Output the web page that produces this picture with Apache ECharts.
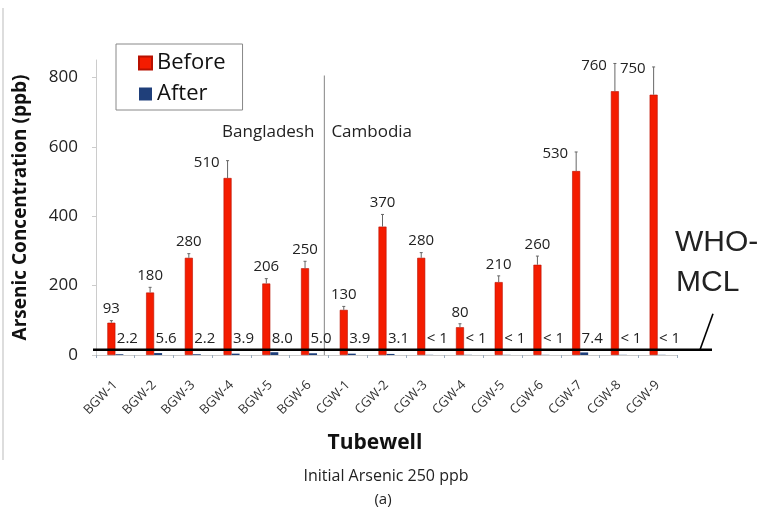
<!DOCTYPE html>
<html>
<head>
<meta charset="utf-8">
<script src="https://cdn.jsdelivr.net/npm/echarts@6/dist/echarts.min.js"></script>
<style>
html,body{margin:0;padding:0;background:#fff;}
#c{width:762px;height:513px;}
</style>
</head>
<body>
<div id="c"></div>
<script>
const categories = ['BGW-1','BGW-2','BGW-3','BGW-4','BGW-5','BGW-6','CGW-1','CGW-2','CGW-3','CGW-4','CGW-5','CGW-6','CGW-7','CGW-8','CGW-9'];
const beforeValues = [93,180,280,510,206,250,130,370,280,80,210,260,530,760,750];
const beforeErrors = [6,15,12,50,14,20,10,35,15,10,18,25,55,80,80];
const afterValues = [2.2,5.6,2.2,3.9,8.0,5.0,3.9,3.1,0.5,0.5,0.5,0.5,7.4,0.5,0.5];
const afterLabels = ['2.2','5.6','2.2','3.9','8.0','5.0','3.9','3.1','< 1','< 1','< 1','< 1','7.4','< 1','< 1'];
const yTicks = [0,200,400,600,800];
const mclValue = 15;
const yMax = 850;

const chart = echarts.init(document.getElementById('c'), null, {renderer:'canvas'});
const FONT = 'Open Sans';

const errData = categories.map((c,i)=>[i, beforeValues[i], beforeErrors[i]]);
const afterLabelData = categories.map((c,i)=>[i, afterValues[i], afterLabels[i]]);

const option = {
  animation:false,
  backgroundColor:'#fff',
  grid:{left:96, right:85, top:60, bottom:158, containLabel:false},
  legend:{
    left:116, top:44, orient:'vertical',
    data:['Before','After'],
    borderColor:'#888', borderWidth:1, padding:[8,17,5,22],
    itemWidth:13, itemHeight:13, itemGap:9,
    icon:'rect',
    textStyle:{fontSize:22, fontFamily:FONT, color:'#111'},
    selectedMode:false
  },
  xAxis:{
    type:'category', data:categories, boundaryGap:true,
    axisLine:{lineStyle:{color:'#ccc'}},
    axisTick:{show:true, length:3, lineStyle:{color:'#9ab'}},
    axisLabel:{rotate:45, fontSize:13, fontFamily:FONT, color:'#333', margin:28, interval:0}
  },
  yAxis:{
    type:'value', min:0, max:yMax, interval:200,
    name:'Arsenic Concentration (ppb)', nameLocation:'middle', nameGap:66,
    nameTextStyle:{fontSize:19, fontWeight:'bold', fontFamily:FONT, color:'#111'},
    splitLine:{show:false},
    axisLine:{show:true, lineStyle:{color:'#ccc'}},
    axisTick:{show:true, length:4, lineStyle:{color:'#ccc'}},
    axisLabel:{fontSize:17, fontFamily:FONT, color:'#222', margin:18, showMaxLabel:false,
      formatter:v=> yTicks.indexOf(v)>=0 ? String(v) : ''}
  },
  series:[
    {name:'Before', type:'bar', data:beforeValues, barWidth:8, barGap:'0%',
     itemStyle:{color:'#f41c00', borderColor:'#b81000', borderWidth:0.6}},
    {name:'After', type:'bar', data:afterValues, barWidth:8,
     itemStyle:{color:'#1f3f7a'}},
    {type:'custom', name:'err', data:errData, z:5,
     renderItem:function(params, api){
       const i = api.value(0), v = api.value(1), e = api.value(2);
       const base = api.coord([i, v]);
       const top = api.coord([i, v+e]);
       const x = base[0] - 4;
       const big = e > 40;
       const label = String(beforeValues[i]);
       return {type:'group', children:[
         {type:'line', shape:{x1:x, y1:base[1], x2:x, y2:top[1]}, style:{stroke:'#666', lineWidth:1}},
         {type:'line', shape:{x1:x-1.5, y1:top[1], x2:x+1.5, y2:top[1]}, style:{stroke:'#666', lineWidth:1}},
         {type:'text', x: big ? x-8 : x, y: big ? top[1]+2 : top[1]-4,
          style:{text:label, fontSize:15, fontFamily:FONT, fill:'#222',
                 align: big ? 'right':'center', verticalAlign: big ? 'middle':'bottom'}}
       ]};
     }},
    {type:'custom', name:'afterLbl', data:afterLabelData, z:6,
     renderItem:function(params, api){
       const i = api.value(0);
       const p = api.coord([i, 0]);
       return {type:'text', x:p[0]+12, y:p[1]-16,
         style:{text:afterLabels[i], fontSize:15, fontFamily:FONT, fill:'#222', align:'center', verticalAlign:'middle'}};
     }}
  ],
  graphic:[]
};
chart.setOption(option);

// overlay graphics computed via the chart's scales
const yMcl = chart.convertToPixel({yAxisIndex:0}, mclValue);
const y0 = chart.convertToPixel({yAxisIndex:0}, 0);
const y805 = chart.convertToPixel({yAxisIndex:0}, 805);
const x5 = chart.convertToPixel({xAxisIndex:0}, 5);
const x6 = chart.convertToPixel({xAxisIndex:0}, 6);
const sepX = (x5 + x6)/2 - 4;
const gridLeft = 93;
const mclRight = 712;

chart.setOption({graphic:[
  {type:'line', shape:{x1:3, y1:8, x2:3, y2:460}, style:{stroke:'#ddd', lineWidth:2}, silent:true},
  {type:'line', shape:{x1:sepX, y1:y805, x2:sepX, y2:y0}, style:{stroke:'#999', lineWidth:1.2}, z:1, silent:true},
  {type:'line', shape:{x1:gridLeft, y1:yMcl, x2:mclRight, y2:yMcl}, style:{stroke:'#000', lineWidth:2.5}, z:100, silent:true},
  {type:'line', shape:{x1:mclRight-12, y1:yMcl, x2:mclRight+1, y2:yMcl-36}, style:{stroke:'#000', lineWidth:1.6}, z:100, silent:true},
  {type:'text', x:sepX-10, y:132, style:{text:'Bangladesh', fontSize:17, fontFamily:FONT, fill:'#222', align:'right', verticalAlign:'middle'}, z:100},
  {type:'text', x:sepX+7, y:132, style:{text:'Cambodia', fontSize:17, fontFamily:FONT, fill:'#222', align:'left', verticalAlign:'middle'}, z:100},
  {type:'text', x:675, y:243, style:{text:'WHO-', fontSize:30, fontFamily:'Liberation Sans', fill:'#222', align:'left', verticalAlign:'middle'}, z:100},
  {type:'text', x:676, y:283, style:{text:'MCL', fontSize:30, fontFamily:'Liberation Sans', fill:'#222', align:'left', verticalAlign:'middle'}, z:100},
  {type:'text', x:375, y:443, style:{text:'Tubewell', fontSize:21, fontWeight:'bold', fontFamily:FONT, fill:'#111', align:'center', verticalAlign:'middle'}, z:100},
  {type:'text', x:386, y:476, style:{text:'Initial Arsenic 250 ppb', fontSize:16, fontFamily:FONT, fill:'#222', align:'center', verticalAlign:'middle'}, z:100},
  {type:'text', x:383, y:500, style:{text:'(a)', fontSize:15, fontFamily:FONT, fill:'#222', align:'center', verticalAlign:'middle'}, z:100}
]});
</script>
</body>
</html>
